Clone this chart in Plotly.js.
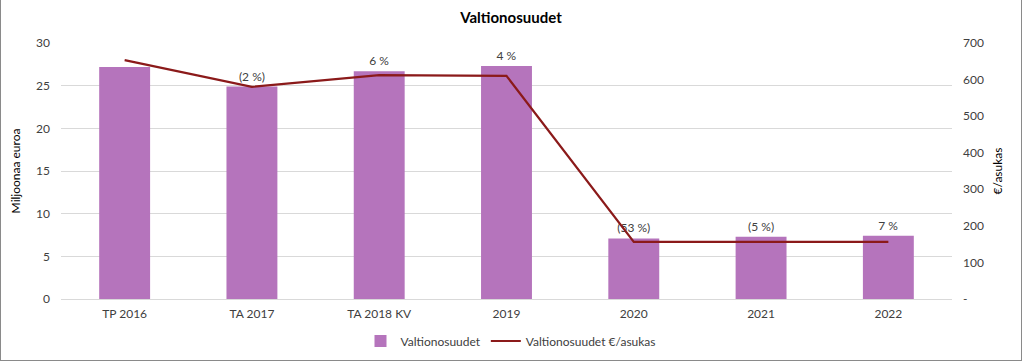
<!DOCTYPE html>
<html>
<head>
<meta charset="utf-8">
<script src="https://cdn.plot.ly/plotly-3.0.1.min.js"></script>
<style>
  html, body { margin: 0; padding: 0; background: #fff; }
  #chart { position: absolute; left: 0; top: 0; width: 1020px; height: 360px;
           border-left: 1px solid #8a8a8a; border-right: 1px solid #8a8a8a; border-bottom: 1px solid #8a8a8a; }
</style>
</head>
<body>
<div id="chart"></div>
<script>
const categories = ["TP 2016", "TA 2017", "TA 2018 KV", "2019", "2020", "2021", "2022"];
const barValues = [27.2, 24.9, 26.7, 27.3, 7.1, 7.3, 7.4];
const lineValues = [653, 580, 612, 610, 156, 157, 156];
const barLabels = ["", "(2 %)", "6 %", "4 %", "(53 %)", "(5 %)", "7 %"];
const rightTickVals = [0, 100, 200, 300, 400, 500, 600, 700];
const rightTickText = ["-", "100", "200", "300", "400", "500", "600", "700"];

const FONT = "Lato, 'Liberation Sans', sans-serif";
const TXT = "#404040";

const data = [
  {
    type: "bar", name: "Valtionosuudet", x: categories, y: barValues,
    marker: { color: "#b574bc" },
    text: barLabels, textposition: "outside", cliponaxis: false,
    textfont: { family: FONT, size: 12, color: TXT },
    hoverinfo: "x+y"
  },
  {
    type: "scatter", mode: "lines", name: "Valtionosuudet €/asukas",
    x: categories, y: lineValues, yaxis: "y2",
    line: { color: "#8b1a1a", width: 2.2 }
  }
];

const layout = {
  width: 1020, height: 360,
  margin: { l: 60, r: 69, t: 43, b: 61 },
  paper_bgcolor: "#fff", plot_bgcolor: "#fff",
  font: { family: FONT, size: 12, color: TXT },
  title: { text: "<b>Valtionosuudet</b>", x: 0.5, xanchor: "center", y: 1 - 18/360, yanchor: "middle",
           font: { family: FONT, size: 15, color: "#000" } },
  bargap: 0.6,
  showlegend: true,
  legend: { orientation: "h", x: 0.5, xanchor: "center", xref: "container", y: 19/360, yanchor: "middle", yref: "container",
            font: { family: FONT, size: 12, color: TXT }, traceorder: "normal" },
  xaxis: { type: "category", showgrid: false, showline: false, zeroline: false, ticks: "",
           tickfont: { family: FONT, size: 12, color: TXT }, ticklabelstandoff: 6 },
  yaxis: { range: [0, 30], dtick: 5, showgrid: true, gridcolor: "#d9d9d9", gridwidth: 1,
           zeroline: true, zerolinecolor: "#d9d9d9", showline: false, ticks: "",
           tickfont: { family: FONT, size: 12, color: TXT }, ticklabelstandoff: 10,
           title: { text: "Miljoonaa euroa", font: { family: FONT, size: 12, color: "#000" }, standoff: 12 } },
  yaxis2: { overlaying: "y", side: "right", range: [0, 700], tickvals: rightTickVals, ticktext: rightTickText,
            showgrid: false, zeroline: false, showline: false, ticks: "",
            tickfont: { family: FONT, size: 12, color: TXT }, ticklabelstandoff: 10,
            title: { text: "€/asukas", font: { family: FONT, size: 12, color: "#000" }, standoff: 10 } }
};

Plotly.newPlot("chart", data, layout, { displayModeBar: false, staticPlot: true });
</script>
</body>
</html>
